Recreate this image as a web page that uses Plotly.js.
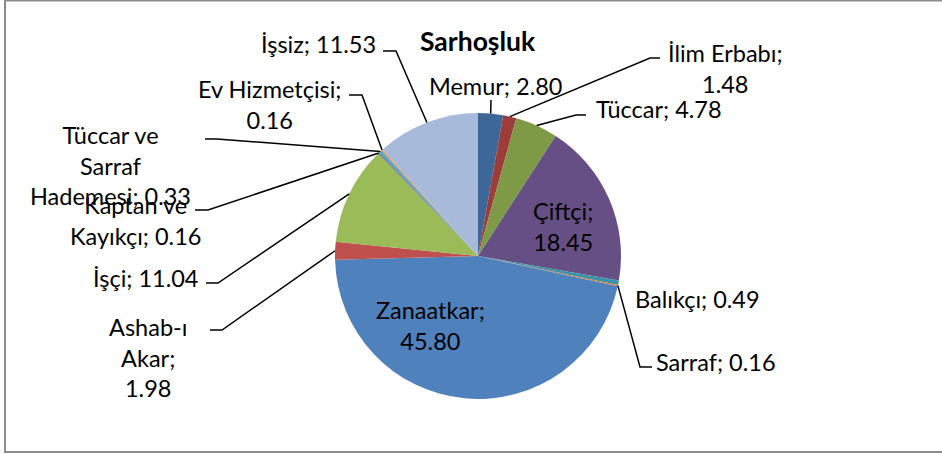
<!DOCTYPE html>
<html>
<head>
<meta charset="utf-8">
<script src="https://cdn.plot.ly/plotly-3.0.1.min.js"></script>
<style>html,body{margin:0;padding:0;background:#fff;}#chart{width:942px;height:454px;}</style>
</head>
<body>
<div id="chart"></div>
<script>
// ---- data ----
const categories = ["Memur", "İlim Erbabı", "Tüccar", "Çiftçi", "Balıkçı", "Sarraf", "Zanaatkar",
  "Ashab-ı Akar", "İşçi", "Kaptan ve Kayıkçı", "Tüccar ve Sarraf Hademesi", "Ev Hizmetçisi", "İşsiz"];
const values = [2.80, 1.48, 4.78, 18.45, 0.49, 0.16, 45.80, 1.98, 11.04, 0.16, 0.33, 0.16, 11.53];
const labelTexts = ["Memur; 2.80", "İlim Erbabı;<br>1.48", "Tüccar; 4.78", "Çiftçi;<br>18.45",
  "Balıkçı; 0.49", "Sarraf; 0.16", "Zanaatkar;<br>45.80", "Ashab-ı<br>Akar;<br>1.98",
  "İşçi; 11.04", "Kaptan ve<br>Kayıkçı; 0.16", "Tüccar ve<br>Sarraf<br>Hademesi; 0.33",
  "Ev Hizmetçisi;<br>0.16", "İşsiz; 11.53"];
const chartTitle = "Sarhoşluk";

// ---- styling / layout ----
const colors = ["#3C6798", "#9D3D3A", "#7E9A47", "#664F85", "#3B93AA", "#E07F30", "#4F81BD",
  "#C0504D", "#9BBB59", "#8064A2", "#4BACC6", "#F79646", "#A8BADA"];
const W = 942, H = 454;
const CX = 478, CY = 256, R = 143;
const FONT = "Lato, 'Open Sans', sans-serif";
const FS = 23.5;
// label block centre [x, y] in pixels, and leader line elbow/tick points (null = no leader)
const labelPos = [[495, 86], [725, 68], [659, 109], [563, 226], [697, 299], [716, 362], [430, 325],
  [148, 357], [146, 278], [135, 220], [110, 165], [270, 104], [318, 44]];
const leaderTick = [
  [[491, 100]],
  [[660, 58], [650, 58]],
  [[586, 115], [576, 115]],
  null, null,
  [[652, 367], [640, 367]],
  null,
  [[210, 330], [222, 330]],
  [[206, 283], [218, 283]],
  [[195, 210], [208, 210]],
  [[205, 139], [217, 139]],
  [[349, 95], [362, 95]],
  [[383, 51], [396, 51]]
];

const px = x => x / W;
const py = y => 1 - y / H;

const total = values.reduce((a, b) => a + b, 0);
let cum = 0;
const edge = values.map(v => {
  const a = 2 * Math.PI * (cum + v / 2) / total;
  cum += v;
  return [CX + R * Math.sin(a), CY - R * Math.cos(a)];
});

const shapes = [{
  type: "rect", xref: "paper", yref: "paper",
  x0: px(5), x1: px(960), y0: py(452), y1: py(0.5),
  line: {color: "#8C8C8C", width: 2}, fillcolor: "rgba(0,0,0,0)"
}];
leaderTick.forEach((pts, i) => {
  if (!pts) return;
  const all = pts.concat([edge[i]]);
  const d = all.map((p, k) => (k ? "L" : "M") + px(p[0]) + "," + py(p[1])).join(" ");
  shapes.push({type: "path", xref: "paper", yref: "paper", path: d,
    line: {color: "#000000", width: 1.5}});
});

const annotations = labelTexts.map((t, i) => ({
  text: t, xref: "paper", yref: "paper",
  x: px(labelPos[i][0]), y: py(labelPos[i][1]),
  xanchor: "center", yanchor: "middle", align: "center", showarrow: false,
  font: {family: FONT, size: FS, color: "#000000"}
}));
annotations.push({
  text: "<b>" + chartTitle + "</b>", xref: "paper", yref: "paper",
  x: px(478), y: py(41), xanchor: "center", yanchor: "middle", showarrow: false,
  font: {family: FONT, size: 26.5, color: "#000000"}
});

const trace = {
  type: "pie", labels: categories, values: values, sort: false,
  direction: "clockwise", rotation: 0, textinfo: "none", hoverinfo: "label+value",
  marker: {colors: colors, line: {width: 0}},
  domain: {x: [px(CX - R), px(CX + R)], y: [py(CY + R), py(CY - R)]},
  showlegend: false
};

Plotly.newPlot("chart", [trace], {
  width: W, height: H, margin: {l: 0, r: 0, t: 0, b: 0},
  paper_bgcolor: "#ffffff", plot_bgcolor: "#ffffff",
  showlegend: false, shapes: shapes, annotations: annotations
}, {displayModeBar: false, staticPlot: true});
</script>
</body>
</html>
